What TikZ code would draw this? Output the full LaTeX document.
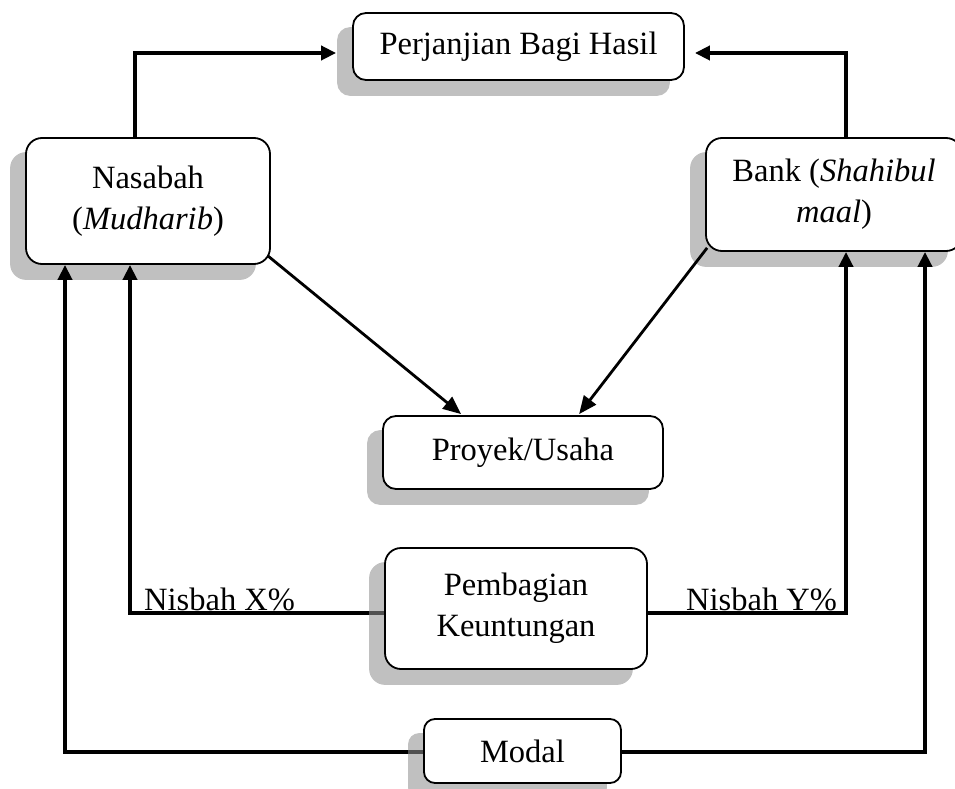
\documentclass[tikz,border=0pt]{standalone}
\usepackage{fontspec}
\setmainfont{Liberation Serif}
\usetikzlibrary{arrows.meta,calc}
\pgfdeclarelayer{shadowlayer}
\pgfdeclarelayer{linelayer}
\pgfdeclarelayer{topshadow}
\pgfsetlayers{shadowlayer,linelayer,topshadow,main}
\definecolor{shadowgray}{RGB}{192,192,192}
\definecolor{shadowdark}{RGB}{143,143,143}
\begin{document}
\begin{tikzpicture}[x=1pt,y=-1pt,
  box/.style={draw=black, line width=1.8pt, fill=white, rounded corners=#1,
    inner sep=0pt, align=center, font=\fontsize{32.5}{41}\selectfont},
  box/.default=14pt,
  lbl/.style={inner sep=0pt, font=\fontsize{32.5}{41}\selectfont},
  conn/.style={line width=4pt, -{Triangle[length=15pt,width=14pt]}},
  diag/.style={line width=2.8pt, -{Triangle[length=18pt,width=15pt]}},
  shadowbox/.style={fill=shadowgray, rounded corners=#1},
  shadowtop/.style={fill=shadowdark, fill opacity=0.56, rounded corners=#1}
]
\useasboundingbox (0,0) rectangle (955,789);

% boxes
\node[box=13pt, minimum width=331pt, minimum height=67pt] (per) at (518.5,46.5) {Perjanjian Bagi Hasil};
\node[box=16pt, minimum width=244pt, minimum height=126pt] (nas) at (148,201) {Nasabah\\(\textit{Mudharib})};
\node[box=16pt, minimum width=256pt, minimum height=113pt] (bank) at (834,194.5) {Bank (\textit{Shahibul}\\\textit{maal})};
\node[box=13pt, minimum width=280pt, minimum height=73pt] (pro) at (523,452.5) {Proyek/Usaha};
\node[box=16pt, minimum width=262pt, minimum height=121pt] (pem) at (516,608.5) {Pembagian\\Keuntungan};
\node[box=11pt, minimum width=197pt, minimum height=64pt] (mod) at (522.5,751) {Modal};

% labels
\node[lbl, anchor=base west] (nx) at (144,610) {Nisbah X\%};
\node[lbl, anchor=base west] (ny) at (686,610) {Nisbah Y\%};

% x positions of vertical connectors
\coordinate (cx1) at (135,0);
\coordinate (cx2) at (846,0);
\coordinate (cx3) at (130,0);
\coordinate (cx4) at (65,0);
\coordinate (cx5) at (925,0);

% opaque shadows
\begin{pgfonlayer}{shadowlayer}
\fill[shadowbox=13pt] ([shift={(-15,15)}]per.north west) rectangle ([shift={(-15,15)}]per.south east);
\fill[shadowbox=16pt] ([shift={(-15,15)}]nas.north west) rectangle ([shift={(-15,15)}]nas.south east);
\fill[shadowbox=16pt] ([shift={(-15,15)}]bank.north west) rectangle ([shift={(-15,15)}]bank.south east);
\fill[shadowbox=13pt] ([shift={(-15,15)}]pro.north west) rectangle ([shift={(-15,15)}]pro.south east);
\end{pgfonlayer}

% connectors
\begin{pgfonlayer}{linelayer}
\draw[conn] (nas.north -| cx1) |- ([shift={(-16,6.5)}]per.west);
\draw[conn] (bank.north -| cx2) |- ([shift={(10,6.5)}]per.east);
\draw[diag] ([shift={(-3,-9)}]nas.south east) -- ([shift={(79,-1)}]pro.north west);
\draw[diag] ([shift={(2,-4)}]bank.south west) -- ([shift={(197,-1)}]pro.north west);
\draw[conn] ([shift={(0,4.5)}]pem.west) -| (nas.south -| cx3);
\draw[conn] ([shift={(0,4.5)}]pem.east) -| (bank.south -| cx2);
\draw[conn] ([shift={(0,1)}]mod.west) -| (nas.south -| cx4);
\draw[conn] ([shift={(0,1)}]mod.east) -| (bank.south -| cx5);
\end{pgfonlayer}

% translucent shadows over connectors
\begin{pgfonlayer}{topshadow}
\fill[shadowtop=16pt] ([shift={(-15,15)}]pem.north west) rectangle ([shift={(-15,15)}]pem.south east);
\fill[shadowtop=11pt] ([shift={(-15,15)}]mod.north west) rectangle ([shift={(-15,15)}]mod.south east);
\end{pgfonlayer}
\end{tikzpicture}
\end{document}
